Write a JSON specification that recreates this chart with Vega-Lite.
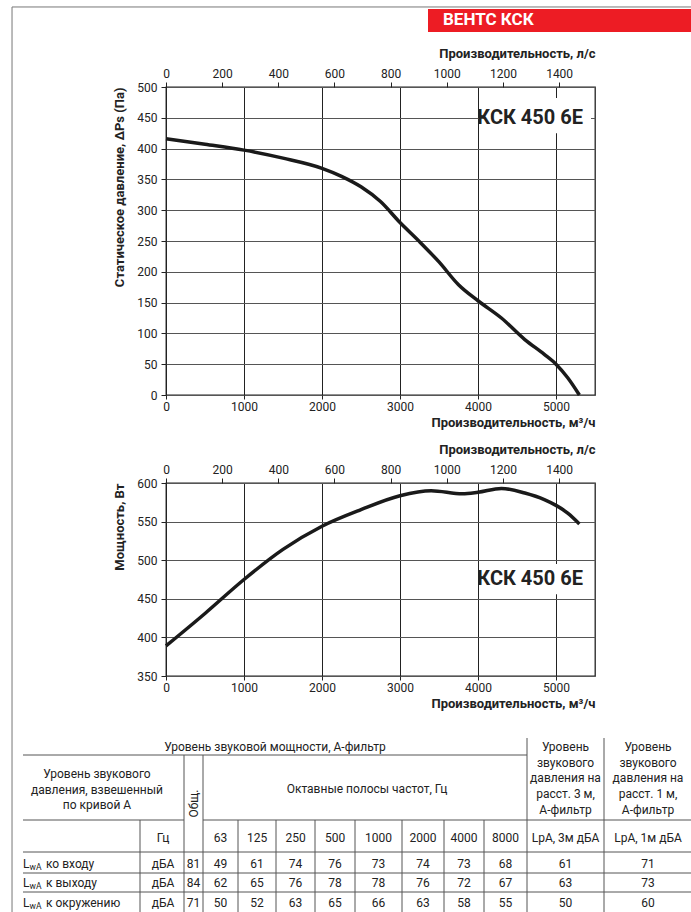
{
  "$schema": "https://vega.github.io/schema/vega-lite/v6.json",
  "background": "white",
  "padding": {"left": 10, "top": 5, "right": 0, "bottom": 0},
  "spacing": 88,
  "bounds": "flush",
  "config": {
    "font": "Roboto",
    "text": {"font": "Roboto", "fontSize": 12, "color": "#222"},
    "axis": {"labelFont": "Roboto", "titleFont": "Roboto", "labelColor": "#222", "titleColor": "#222", "labelFlush": false, "labelOverlap": false, "format": "d"}
  },
  "vconcat": [
    {
      "width": 429,
      "height": 308,
      "view": {"stroke": "#222", "strokeWidth": 1.3},
      "layer": [
        {
          "layer": [
            {
              "data": {"values": [
                {"q": 0, "p": 416}, {"q": 500, "p": 407}, {"q": 1000, "p": 397.5}, {"q": 1500, "p": 384.5},
                {"q": 2000, "p": 368}, {"q": 2250, "p": 355}, {"q": 2500, "p": 338}, {"q": 2750, "p": 314},
                {"q": 3000, "p": 280}, {"q": 3250, "p": 249}, {"q": 3500, "p": 216}, {"q": 3750, "p": 179},
                {"q": 4000, "p": 153}, {"q": 4300, "p": 125}, {"q": 4600, "p": 90}, {"q": 4850, "p": 66},
                {"q": 5000, "p": 50}, {"q": 5150, "p": 28}, {"q": 5300, "p": 0}
              ]},
              "mark": {"type": "line", "color": "#1a1a1a", "strokeWidth": 3.5, "interpolate": "monotone"},
              "encoding": {
                "x": {"field": "q", "type": "quantitative", "scale": {"domain": [0, 5500], "nice": false, "zero": false},
                  "axis": {"orient": "bottom", "values": [0, 1000, 2000, 3000, 4000, 5000], "tickCount": 30, "format": "d", "labelOverlap": false, "grid": true, "gridColor": "#222", "gridWidth": 1, "domain": false, "tickSize": 4, "tickColor": "#222", "labelFontSize": 12, "labelPadding": 2, "title": "Производительность, м³/ч", "titleFontSize": 13, "titleFontWeight": "bold", "titleAnchor": "end", "titlePadding": 4}},
                "y": {"field": "p", "type": "quantitative", "scale": {"domain": [0, 500], "nice": false, "zero": false},
                  "axis": {"orient": "left", "values": [0, 50, 100, 150, 200, 250, 300, 350, 400, 450, 500], "tickCount": 30, "format": "d", "labelOverlap": false, "labelSeparation": 0, "grid": true, "gridColor": "#555", "gridWidth": 1, "domain": false, "tickSize": 5, "tickColor": "#222", "labelFontSize": 12, "labelPadding": 4, "title": "Статическое давление, ΔPs (Па)", "titleFontSize": 13, "titleFontWeight": "bold", "titleAnchor": "end", "titlePadding": 10}}
              }
            },
            {
              "data": {"values": [{}]},
              "mark": {"type": "rect", "fill": "white"},
              "encoding": {
                "x": {"datum": 4090, "scale": {"domain": [0, 5500], "nice": false, "zero": false}},
                "x2": {"datum": 5449},
                "y": {"datum": 425, "scale": {"domain": [0, 500], "nice": false, "zero": false}},
                "y2": {"datum": 482}
              }
            },
            {
              "data": {"values": [{}]},
              "mark": {"type": "text", "text": "КСК 450 6E", "align": "right", "baseline": "middle", "fontSize": 20, "fontWeight": "bold", "color": "#222"},
              "encoding": {
                "x": {"datum": 5346, "scale": {"domain": [0, 5500], "nice": false, "zero": false}},
                "y": {"datum": 450, "scale": {"domain": [0, 500], "nice": false, "zero": false}}
              }
            },
            {
              "data": {"values": [{}]},
              "mark": {"type": "rect", "fill": "#ed1c24"},
              "encoding": {
                "x": {"datum": 3359, "scale": {"domain": [0, 5500], "nice": false, "zero": false}},
                "x2": {"datum": 6744},
                "y": {"datum": 589.3, "scale": {"domain": [0, 500], "nice": false, "zero": false}},
                "y2": {"datum": 626.6}
              }
            },
            {
              "data": {"values": [{}]},
              "mark": {"type": "text", "text": "ВЕНТС КСК", "align": "left", "baseline": "middle", "fontSize": 17, "fontWeight": "bold", "color": "white"},
              "encoding": {
                "x": {"datum": 3551, "scale": {"domain": [0, 5500], "nice": false, "zero": false}},
                "y": {"datum": 608, "scale": {"domain": [0, 500], "nice": false, "zero": false}}
              }
            },
            {
              "data": {"values": [{}]},
              "mark": {"type": "rule", "color": "#777", "strokeWidth": 1},
              "encoding": {
                "x": {"datum": -1974, "scale": {"domain": [0, 5500], "nice": false, "zero": false}},
                "x2": {"datum": 6744},
                "y": {"datum": 629.9, "scale": {"domain": [0, 500], "nice": false, "zero": false}}
              }
            },
            {
              "data": {"values": [{}]},
              "mark": {"type": "rule", "color": "#777", "strokeWidth": 1},
              "encoding": {
                "x": {"datum": -1974, "scale": {"domain": [0, 5500], "nice": false, "zero": false}},
                "y": {"datum": 629.9, "scale": {"domain": [0, 500], "nice": false, "zero": false}},
                "y2": {"datum": -841}
              }
            }
          ]
        },
        {
          "data": {"values": [{}]},
          "mark": {"type": "rule", "opacity": 0},
          "encoding": {
            "x": {"datum": 0, "type": "quantitative", "scale": {"domain": [0, 1527.78], "nice": false, "zero": false},
              "axis": {"orient": "top", "values": [0, 200, 400, 600, 800, 1000, 1200, 1400], "tickCount": 30, "format": "d", "labelOverlap": false, "grid": false, "domain": false, "tickSize": 5, "tickColor": "#222", "labelFontSize": 12, "labelPadding": 2, "title": "Производительность, л/с", "titleFontSize": 13, "titleFontWeight": "bold", "titleAnchor": "end", "titlePadding": 7}}
          }
        }
      ],
      "resolve": {"scale": {"x": "independent"}}
    },
    {
      "width": 429,
      "height": 193,
      "view": {"stroke": "#222", "strokeWidth": 1.3},
      "layer": [
        {
          "layer": [
            {
              "data": {"values": [
                {"q": 0, "w": 389}, {"q": 500, "w": 431}, {"q": 1000, "w": 475}, {"q": 1500, "w": 514},
                {"q": 2000, "w": 544}, {"q": 2500, "w": 565.5}, {"q": 3000, "w": 583.5}, {"q": 3400, "w": 590},
                {"q": 3800, "w": 586}, {"q": 4000, "w": 588}, {"q": 4300, "w": 593}, {"q": 4600, "w": 587},
                {"q": 4850, "w": 578.5}, {"q": 5000, "w": 571}, {"q": 5150, "w": 561}, {"q": 5300, "w": 547}
              ]},
              "mark": {"type": "line", "color": "#1a1a1a", "strokeWidth": 3.5, "interpolate": "monotone"},
              "encoding": {
                "x": {"field": "q", "type": "quantitative", "scale": {"domain": [0, 5500], "nice": false, "zero": false},
                  "axis": {"orient": "bottom", "values": [0, 1000, 2000, 3000, 4000, 5000], "tickCount": 30, "format": "d", "labelOverlap": false, "grid": true, "gridColor": "#222", "gridWidth": 1, "domain": false, "tickSize": 4, "tickColor": "#222", "labelFontSize": 12, "labelPadding": 2, "title": "Производительность, м³/ч", "titleFontSize": 13, "titleFontWeight": "bold", "titleAnchor": "end", "titlePadding": 4}},
                "y": {"field": "w", "type": "quantitative", "scale": {"domain": [350, 600], "nice": false, "zero": false},
                  "axis": {"orient": "left", "values": [350, 400, 450, 500, 550, 600], "tickCount": 30, "format": "d", "labelOverlap": false, "labelSeparation": 0, "grid": true, "gridColor": "#555", "gridWidth": 1, "domain": false, "tickSize": 5, "tickColor": "#222", "labelFontSize": 12, "labelPadding": 4, "title": "Мощность, Вт", "titleFontSize": 13, "titleFontWeight": "bold", "titleAnchor": "end", "titlePadding": 10}}
              }
            },
            {
              "data": {"values": [{}]},
              "mark": {"type": "rect", "fill": "white"},
              "encoding": {
                "x": {"datum": 4090, "scale": {"domain": [0, 5500], "nice": false, "zero": false}},
                "x2": {"datum": 5449},
                "y": {"datum": 456, "scale": {"domain": [350, 600], "nice": false, "zero": false}},
                "y2": {"datum": 495}
              }
            },
            {
              "data": {"values": [{}]},
              "mark": {"type": "text", "text": "КСК 450 6E", "align": "right", "baseline": "middle", "fontSize": 20, "fontWeight": "bold", "color": "#222"},
              "encoding": {
                "x": {"datum": 5346, "scale": {"domain": [0, 5500], "nice": false, "zero": false}},
                "y": {"datum": 475.6, "scale": {"domain": [350, 600], "nice": false, "zero": false}}
              }
            }
          ]
        },
        {
          "data": {"values": [{}]},
          "mark": {"type": "rule", "opacity": 0},
          "encoding": {
            "x": {"datum": 0, "type": "quantitative", "scale": {"domain": [0, 1527.78], "nice": false, "zero": false},
              "axis": {"orient": "top", "values": [0, 200, 400, 600, 800, 1000, 1200, 1400], "tickCount": 30, "format": "d", "labelOverlap": false, "grid": false, "domain": false, "tickSize": 5, "tickColor": "#222", "labelFontSize": 12, "labelPadding": 2, "title": "Производительность, л/с", "titleFontSize": 13, "titleFontWeight": "bold", "titleAnchor": "end", "titlePadding": 7}}
          }
        }
      ],
      "resolve": {"scale": {"x": "independent"}}
    },
    {
      "width": 429,
      "height": 149,
      "view": {"stroke": null},
      "encoding": {
        "x": {"field": "c", "type": "quantitative", "axis": null,
          "scale": {"type": "linear", "nice": false, "zero": false,
            "domain": [0, 1, 1.5, 2, 2.5, 3, 3.5, 4, 4.5, 5, 5.5, 6, 6.5, 7, 7.5, 8, 8.5, 9, 9.5, 10, 10.5, 11, 11.5, 12, 12.5, 13, 14, 15, 16],
            "range": [-143, -26, -3, 18, 27.5, 37, 54.5, 72, 91, 110, 129.5, 149, 169, 189, 212.5, 236, 257, 278, 298, 318, 339.5, 361, 399.5, 438, 482, 526, 109, -69, 201]}},
        "y": {"field": "r", "type": "quantitative", "axis": null,
          "scale": {"type": "linear", "nice": false, "zero": false,
            "domain": [0, 0.5, 1, 1.5, 2, 2.5, 3, 3.5, 4, 4.5, 5, 5.5, 6, 7, 8],
            "range": [-26, -17, -9, 25, 56, 74, 88, 99.5, 109, 119, 128, 139, 149, 10, 39.5]}}
      },
      "layer": [
        {
          "data": {"values": [
            {"c": 0, "c1": 11, "r": 1, "r1": 1},
            {"c": 0, "c1": 2, "r": 2, "r1": 2},
            {"c": 3, "c1": 13, "r": 2, "r1": 2},
            {"c": 0, "c1": 13, "r": 3, "r1": 3},
            {"c": 0, "c1": 13, "r": 4, "r1": 4},
            {"c": 0, "c1": 13, "r": 5, "r1": 5},
            {"c": 1, "c1": 1, "r": 2, "r1": 6},
            {"c": 2, "c1": 2, "r": 1, "r1": 6},
            {"c": 3, "c1": 3, "r": 1, "r1": 6},
            {"c": 4, "c1": 4, "r": 2, "r1": 6},
            {"c": 5, "c1": 5, "r": 2, "r1": 6},
            {"c": 6, "c1": 6, "r": 2, "r1": 6},
            {"c": 7, "c1": 7, "r": 2, "r1": 6},
            {"c": 8, "c1": 8, "r": 2, "r1": 6},
            {"c": 9, "c1": 9, "r": 2, "r1": 6},
            {"c": 10, "c1": 10, "r": 2, "r1": 6},
            {"c": 11, "c1": 11, "r": 0, "r1": 6},
            {"c": 12, "c1": 12, "r": 0, "r1": 6}
          ]},
          "mark": {"type": "rule", "color": "#555", "strokeWidth": 1},
          "encoding": {"x2": {"field": "c1"}, "y2": {"field": "r1"}}
        },
        {
          "data": {"values": [
            {"t": "Уровень звуковой мощности, А-фильтр", "c": 14, "r": 0.5},
            {"t": "Уровень\nзвукового\nдавления на\nрасст. 3 м,\nА-фильтр", "c": 11.5, "r": 0.5},
            {"t": "Уровень\nзвукового\nдавления на\nрасст. 1 м,\nА-фильтр", "c": 12.5, "r": 0.5},
            {"t": "Уровень звукового\nдавления, взвешенный\nпо кривой А", "c": 15, "r": 7},
            {"t": "Октавные полосы частот, Гц", "c": 16, "r": 1.5},
            {"t": "Гц", "c": 1.5, "r": 2.5},
            {"t": "63", "c": 3.5, "r": 2.5},
            {"t": "125", "c": 4.5, "r": 2.5},
            {"t": "250", "c": 5.5, "r": 2.5},
            {"t": "500", "c": 6.5, "r": 2.5},
            {"t": "1000", "c": 7.5, "r": 2.5},
            {"t": "2000", "c": 8.5, "r": 2.5},
            {"t": "4000", "c": 9.5, "r": 2.5},
            {"t": "8000", "c": 10.5, "r": 2.5},
            {"t": "LpA, 3м дБА", "c": 11.5, "r": 2.5},
            {"t": "LpA, 1м дБА", "c": 12.5, "r": 2.5},
            {"t": "дБА", "c": 1.5, "r": 3.5},
            {"t": "81", "c": 2.5, "r": 3.5},
            {"t": "49", "c": 3.5, "r": 3.5},
            {"t": "61", "c": 4.5, "r": 3.5},
            {"t": "74", "c": 5.5, "r": 3.5},
            {"t": "76", "c": 6.5, "r": 3.5},
            {"t": "73", "c": 7.5, "r": 3.5},
            {"t": "74", "c": 8.5, "r": 3.5},
            {"t": "73", "c": 9.5, "r": 3.5},
            {"t": "68", "c": 10.5, "r": 3.5},
            {"t": "61", "c": 11.5, "r": 3.5},
            {"t": "71", "c": 12.5, "r": 3.5},
            {"t": "дБА", "c": 1.5, "r": 4.5},
            {"t": "84", "c": 2.5, "r": 4.5},
            {"t": "62", "c": 3.5, "r": 4.5},
            {"t": "65", "c": 4.5, "r": 4.5},
            {"t": "76", "c": 5.5, "r": 4.5},
            {"t": "78", "c": 6.5, "r": 4.5},
            {"t": "78", "c": 7.5, "r": 4.5},
            {"t": "76", "c": 8.5, "r": 4.5},
            {"t": "72", "c": 9.5, "r": 4.5},
            {"t": "67", "c": 10.5, "r": 4.5},
            {"t": "63", "c": 11.5, "r": 4.5},
            {"t": "73", "c": 12.5, "r": 4.5},
            {"t": "дБА", "c": 1.5, "r": 5.5},
            {"t": "71", "c": 2.5, "r": 5.5},
            {"t": "50", "c": 3.5, "r": 5.5},
            {"t": "52", "c": 4.5, "r": 5.5},
            {"t": "63", "c": 5.5, "r": 5.5},
            {"t": "65", "c": 6.5, "r": 5.5},
            {"t": "66", "c": 7.5, "r": 5.5},
            {"t": "63", "c": 8.5, "r": 5.5},
            {"t": "58", "c": 9.5, "r": 5.5},
            {"t": "55", "c": 10.5, "r": 5.5},
            {"t": "50", "c": 11.5, "r": 5.5},
            {"t": "60", "c": 12.5, "r": 5.5}
          ]},
          "mark": {"type": "text", "align": "center", "baseline": "middle", "lineBreak": "\n", "lineHeight": 15.7, "fontSize": 12},
          "encoding": {"text": {"field": "t"}}
        },
        {
          "data": {"values": [{"t": "Общ.", "c": 2.5, "r": 8}]},
          "mark": {"type": "text", "align": "center", "baseline": "middle", "angle": 270, "fontSize": 12},
          "encoding": {"text": {"field": "t"}}
        },
        {
          "data": {"values": [{"lab": "ко входу", "c": 0, "r": 3.5}, {"lab": "к выходу", "c": 0, "r": 4.5}, {"lab": "к окружению", "c": 0, "r": 5.5}]},
          "mark": {"type": "text", "align": "left", "baseline": "middle", "fontSize": 12},
          "encoding": {"text": {"value": "L"}}
        },
        {
          "data": {"values": [{"lab": "ко входу", "c": 0, "r": 3.5}, {"lab": "к выходу", "c": 0, "r": 4.5}, {"lab": "к окружению", "c": 0, "r": 5.5}]},
          "mark": {"type": "text", "align": "left", "baseline": "middle", "fontSize": 8.5, "dx": 6.5, "dy": 3},
          "encoding": {"text": {"value": "wA"}}
        },
        {
          "data": {"values": [{"lab": "ко входу", "c": 0, "r": 3.5}, {"lab": "к выходу", "c": 0, "r": 4.5}, {"lab": "к окружению", "c": 0, "r": 5.5}]},
          "mark": {"type": "text", "align": "left", "baseline": "middle", "fontSize": 12, "dx": 23},
          "encoding": {"text": {"field": "lab"}}
        }
      ]
    }
  ]
}
